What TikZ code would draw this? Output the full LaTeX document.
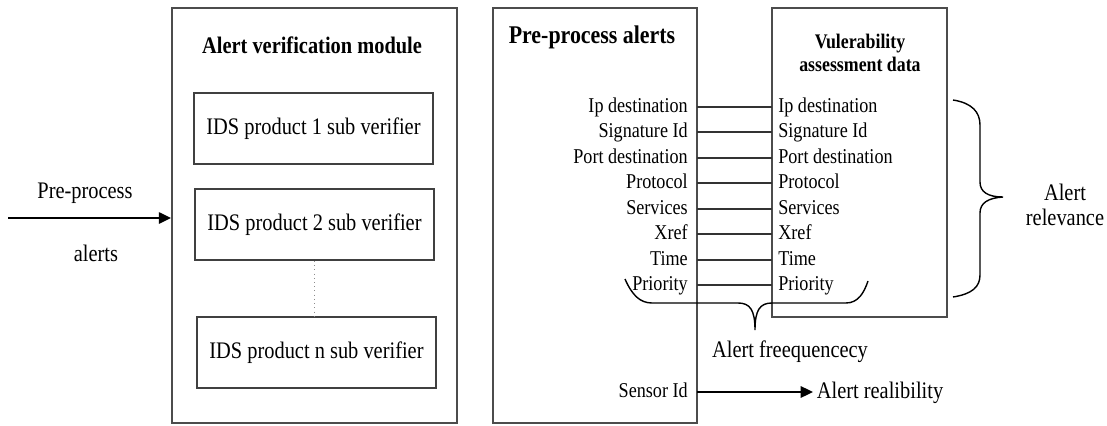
\documentclass[tikz,border=0pt]{standalone}
\usepackage{fontspec}
\setmainfont{Liberation Serif}[FakeStretch=0.86]
\usetikzlibrary{arrows.meta}
\tikzset{
  outerbox/.style={draw=black!70, line width=1.1pt, inner sep=0pt},
  subbox/.style={draw=black!75, line width=1.1pt, minimum width=4.78cm, minimum height=1.42cm, font=\fontsize{13.5}{16}\selectfont},
  heading/.style={font=\bfseries\fontsize{13.5}{16}\selectfont},
  txt/.style={font=\fontsize{13.5}{16}\selectfont},
  fieldtxt/.style={font=\fontsize{12}{14}\selectfont, inner ysep=0pt, text height=1.5ex, text depth=0.25ex},
  rowline/.style={draw=black!80, line width=1.1pt},
  tri/.style={-{Triangle[length=7pt,width=6.5pt]}, line width=1.1pt},
}

\begin{document}
\begin{tikzpicture}[x=0.02cm, y=-0.02cm]
	%%%%% START %%%%%
	\useasboundingbox (0,0) rectangle (1107,426);
	
	% verification module with its sub verifiers
	\node[outerbox, minimum width=5.7cm, minimum height=8.3cm] (avm) at (314.5,215.5) {};
	\node[heading] (avmtitle) at (312,45) {Alert verification module};
	\node[subbox] (sub1) at (313.5,128.5) {IDS product 1 sub verifier};
	\node[subbox] (sub2) at (314.5,224.5) {IDS product 2 sub verifier};
	\node[subbox] (subn) at (316.5,352.5) {IDS product n sub verifier};
	\draw[dotted, black!45] (sub2.south) -- (sub2.south |- subn.north);
	
	% incoming alerts
	\coordinate (src) at (8,218);
	\draw[tri] (src) -- (src -| avm.west);
	\node[txt] (inlbl1) at (85,193) {Pre-process};
	\node[txt] (inlbl2) at (96,253) {alerts};
	
	% the two tables
	\node[outerbox, minimum width=4.08cm, minimum height=8.3cm] (pre) at (595,215.5) {};
	\node[heading, font=\bfseries\fontsize{14.5}{17}\selectfont] (pretitle) at (592,37) {Pre-process alerts};
	\node[outerbox, minimum width=3.5cm, minimum height=6.18cm] (vad) at (859.5,162.5) {};
	\node[heading, font=\bfseries\fontsize{11.8}{13}\selectfont, align=center] (vadtitle) at (860,53) {Vulerability\\assessment data};
	
	\foreach \f [count=\i] in {Ip destination, Signature Id, Port destination, Protocol, Services, Xref, Time, Priority} {
		\pgfmathtruncatemacro\ry{107+25.5*(\i-1)}
		\node[fieldtxt, anchor=east, inner xsep=5.1pt] (l\i) at (697,\ry) {\f};
		\node[fieldtxt, anchor=west, inner xsep=3.4pt] (r\i) at (772,\ry) {\f};
		\draw[rowline] (l\i.east) -- (r\i.west);
	}
	
	% frequency brace under the priority rows
	\draw[line width=0.8pt] (625,279) .. controls (632,295) and (640,303) .. (652,303) -- (738,303)
		.. controls (750,303) and (755,310) .. (755,330)
		.. controls (755,310) and (760,303) .. (772,303) -- (846,303)
		.. controls (858,303) and (864,293) .. (868,281);
	\node[txt] (freq) at (790,352) {Alert freequencecy};
	
	% relevance brace
	\draw[line width=0.8pt] (953,100) .. controls (972,103) and (980,112) .. (980,125) -- (980,182)
		.. controls (980,192) and (988,197) .. (1003,197)
		.. controls (988,198) and (980,203) .. (980,213) -- (980,275)
		.. controls (980,287) and (972,294) .. (953,297);
	\node[txt, align=center, font=\fontsize{13.5}{14}\selectfont] (relev) at (1065,205) {Alert\\relevance};
	
	% sensor id to reliability
	\node[fieldtxt, anchor=east, inner xsep=5.1pt] (sensor) at (697,392) {Sensor Id};
	\node[txt, anchor=west, inner xsep=2pt] (reli) at (813,393) {Alert realibility};
	\draw[tri] (sensor.east) -- (sensor.east -| reli.west);
	%%%%% END %%%%%
\end{tikzpicture}
\end{document}
